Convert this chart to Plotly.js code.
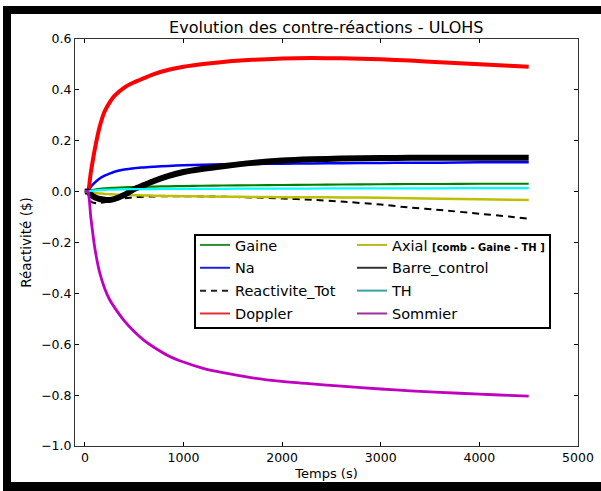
<!DOCTYPE html>
<html>
<head>
<meta charset="utf-8">
<script src="https://cdn.plot.ly/plotly-3.0.1.min.js"></script>
<style>
  html, body { margin: 0; padding: 0; background: #fff; overflow: hidden; }
  #wrap { position: relative; width: 601px; height: 491px; overflow: hidden; }
  #plot { position: absolute; left: 0; top: 0; width: 601px; height: 491px; }
  #frame { position: absolute; left: 3px; top: 6px; width: 606px; height: 485px;
           box-sizing: border-box; border: 8px solid #000; border-bottom-width: 9px; pointer-events: none; }
</style>
</head>
<body>
<div id="wrap"><div id="plot"></div><div id="frame"></div></div>
<script>
// Time (s)
const temps = [0, 30, 60, 100, 150, 200, 250, 300, 400, 500, 600, 700, 850, 1000, 1200, 1400, 1700, 2000, 2300, 2600, 3000, 3300, 3600, 4000, 4300, 4500];

// Reactivity ($) per feedback
const gaine = [0, 0, 0.005, 0.008, 0.011, 0.013, 0.014, 0.015, 0.017, 0.018, 0.019, 0.020, 0.021, 0.022, 0.023, 0.024, 0.025, 0.026, 0.027, 0.028, 0.029, 0.030, 0.030, 0.031, 0.031, 0.031];
const na = [0, 0, 0.018, 0.035, 0.052, 0.063, 0.071, 0.078, 0.087, 0.092, 0.095, 0.098, 0.101, 0.104, 0.106, 0.108, 0.109, 0.110, 0.111, 0.112, 0.113, 0.114, 0.114, 0.115, 0.115, 0.115];
const reactiviteTot = [0, 0, -0.038, -0.045, -0.045, -0.042, -0.038, -0.033, -0.026, -0.022, -0.020, -0.019, -0.018, -0.018, -0.019, -0.020, -0.023, -0.027, -0.032, -0.039, -0.051, -0.063, -0.072, -0.087, -0.098, -0.106];
const doppler = [0, 0, 0.075, 0.165, 0.255, 0.315, 0.350, 0.376, 0.409, 0.430, 0.446, 0.462, 0.479, 0.491, 0.502, 0.510, 0.518, 0.523, 0.525, 0.524, 0.520, 0.515, 0.509, 0.501, 0.495, 0.491];
const axial = [0, 0, -0.003, -0.005, -0.007, -0.009, -0.010, -0.011, -0.013, -0.014, -0.015, -0.016, -0.017, -0.018, -0.019, -0.020, -0.021, -0.022, -0.022, -0.023, -0.024, -0.026, -0.028, -0.030, -0.032, -0.033];
const barreControl = [0, 0, -0.012, -0.022, -0.029, -0.032, -0.033, -0.029, -0.013, 0.010, 0.026, 0.042, 0.062, 0.077, 0.090, 0.100, 0.113, 0.122, 0.127, 0.130, 0.132, 0.133, 0.133, 0.133, 0.133, 0.133];
const th = [0, 0, 0.003, 0.005, 0.006, 0.007, 0.008, 0.008, 0.009, 0.010, 0.010, 0.010, 0.011, 0.011, 0.011, 0.011, 0.012, 0.012, 0.012, 0.013, 0.013, 0.013, 0.013, 0.014, 0.014, 0.014];
const sommier = [0, 0, -0.100, -0.220, -0.318, -0.380, -0.424, -0.455, -0.508, -0.550, -0.585, -0.612, -0.646, -0.670, -0.695, -0.712, -0.732, -0.746, -0.756, -0.765, -0.776, -0.783, -0.789, -0.796, -0.801, -0.804];

const names = ['Gaine', 'Na', 'Reactivite_Tot', 'Doppler',
  'Axial <span style="font-size:10px;font-weight:bold">[comb - Gaine - TH ]</span>',
  'Barre_control', 'TH', 'Sommier'];
const seriesList = [gaine, na, reactiviteTot, doppler, axial, barreControl, th, sommier];
const colors = ['#008000', '#0000ff', '#000000', '#ff0000', '#bfbf00', '#000000', '#00ffff', '#bf00bf'];
const widths = [2.2, 2.5, 2, 4, 2.5, 6, 2.2, 2.8];
const legendColors = ['#2e8b2e', '#2020e0', '#222222', '#e03030', '#b8b820', '#333333', '#3aa0a0', '#a030a0'];

const traces = [];
seriesList.forEach((s, i) => {
  traces.push({
    x: temps, y: s, type: 'scatter', mode: 'lines', showlegend: false,
    line: { color: colors[i], width: widths[i], dash: i === 2 ? '7px,5px' : 'solid', shape: 'spline', smoothing: 0.6 },
    hoverinfo: 'skip'
  });
});
// legend entries
seriesList.forEach((s, i) => {
  traces.push({
    x: [null], y: [null], type: 'scatter', mode: 'lines', name: names[i],
    legend: i < 4 ? 'legend' : 'legend2', legendgroup: 'g' + i,
    line: { color: legendColors[i], width: 2, dash: i === 2 ? '6px,5px' : 'solid' }
  });
});

const fontFam = 'DejaVu Sans, sans-serif';
const legendCommon = {
  font: { family: fontFam, size: 14.5, color: '#000' },
  bgcolor: 'rgba(0,0,0,0)', borderwidth: 0,
  yanchor: 'top', xanchor: 'left', tracegroupgap: 1,
  itemwidth: 30
};

const layout = {
  width: 601, height: 491,
  margin: { l: 75, r: 23, t: 39, b: 45 },
  paper_bgcolor: 'rgba(0,0,0,0)', plot_bgcolor: '#fff',
  font: { family: fontFam, color: '#000', size: 12 },
  title: { text: 'Evolution des contre-réactions - ULOHS', font: { size: 16, family: fontFam, color: '#000' },
           x: 0.5429, xanchor: 'center', xref: 'container', y: 1 - 27 / 491, yanchor: 'middle', yref: 'container' },
  xaxis: {
    range: [-100, 5000], tickvals: [0, 1000, 2000, 3000, 4000, 5000], ticktext: ['0', '1000', '2000', '3000', '4000', '5000'],
    ticks: 'inside', ticklen: 4, tickcolor: '#000', mirror: 'allticks', showline: true, linecolor: '#333', linewidth: 1,
    showgrid: false, zeroline: false, tickfont: { size: 12.5, family: fontFam, color: '#000' },
    title: { text: 'Temps (s)', font: { size: 13, family: fontFam, color: '#000' }, standoff: 4 }
  },
  yaxis: {
    range: [-1.0, 0.6], tickvals: [-1.0, -0.8, -0.6, -0.4, -0.2, 0.0, 0.2, 0.4, 0.6], tickformat: '.1f',
    ticks: 'inside', ticklen: 4, tickcolor: '#000', mirror: 'allticks', showline: true, linecolor: '#333', linewidth: 1,
    showgrid: false, zeroline: false, tickfont: { size: 12.5, family: fontFam, color: '#000' },
    title: { text: 'Réactivité ($)', font: { size: 13.5, family: fontFam, color: '#000' }, standoff: 6 }
  },
  legend: Object.assign({ x: (195 - 75) / 503, y: (446 - 229) / 407 }, legendCommon),
  legend2: Object.assign({ x: (352 - 75) / 503, y: (446 - 229) / 407 }, legendCommon),
  shapes: [{
    type: 'rect', xref: 'paper', yref: 'paper', layer: 'above',
    x0: (195 - 75) / 503, x1: (550 - 75) / 503, y0: (446 - 328) / 407, y1: (446 - 235) / 407,
    line: { color: '#000', width: 2 }, fillcolor: '#fff'
  }],
  showlegend: true
};

Plotly.newPlot('plot', traces, layout, { displayModeBar: false, staticPlot: true });
</script>
</body>
</html>
